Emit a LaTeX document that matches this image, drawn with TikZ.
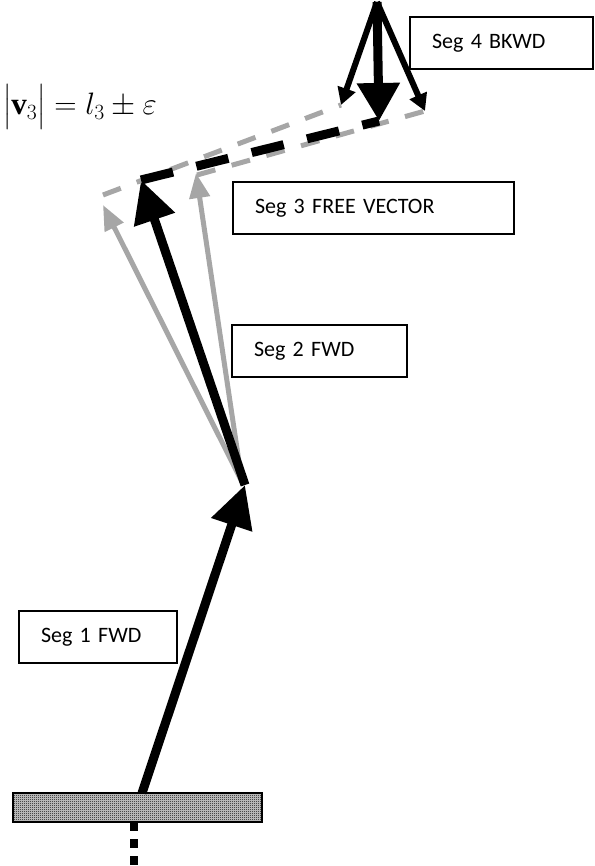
\RequirePackage{fix-cm}
\documentclass[tikz,border=0pt]{standalone}
\usepackage{amsmath}
\usepackage{fontspec}
\setmainfont{Carlito}
\newfontfamily\serifmath{Liberation Serif}
\usetikzlibrary{arrows.meta,patterns}

\pgfdeclarepatternformonly{checks}{\pgfpointorigin}{\pgfpoint{2pt}{2pt}}{\pgfpoint{2pt}{2pt}}{
  \pgfpathrectangle{\pgfpointorigin}{\pgfpoint{1pt}{1pt}}
  \pgfpathrectangle{\pgfpoint{1pt}{1pt}}{\pgfpoint{1pt}{1pt}}
  \pgfusepath{fill}}

\begin{document}
\begin{tikzpicture}[x=1pt,y=-1pt,
  segbox/.style={draw,line width=2,anchor=north west,minimum height=52,
    inner xsep=22,inner ysep=0,align=left,font=\fontsize{22}{26}\selectfont},
  fwd/.style={line width=9,-{Triangle[length=42,width=41]}},
  alt/.style={color=gray!70,line width=5,-{Triangle[length=25,width=20]}},
  bkwd/.style={line width=6,-{Triangle[length=17,width=18]}},
  bkwdmain/.style={line width=9,-{Triangle[length=38,width=41]}},
  freeline/.style={line width=9,dash pattern=on 33 off 24},
  freealt/.style={color=gray!70,line width=5,dash pattern=on 19 off 17}]
  \useasboundingbox (0,0) rectangle (594,866);

  \node (base) at (137.5,807.5) [draw,line width=1.5,preaction={fill=gray!35},pattern=checks,
    minimum width=249,minimum height=29,inner sep=0] {};
  \coordinate (stem) at (134,822);
  \coordinate (stemend) at (134,866);

  \coordinate (root) at (142,793);
  \coordinate (knee) at (245,485);
  \coordinate (kneealt) at (242,482);
  \coordinate (tip) at (141,180);
  \coordinate (tipleft) at (103,205);
  \coordinate (tipright) at (196,173);
  \coordinate (startleft) at (103,195);
  \coordinate (startright) at (197,175);
  \coordinate (top) at (377,2);
  \coordinate (end) at (379,121);
  \coordinate (endleft) at (341,105);
  \coordinate (endright) at (425,111);

  \node (seg1) at (18,610)  [segbox,text width=114] {Seg 1 FWD};
  \node (seg2) at (231,324) [segbox,text width=131] {Seg 2 FWD};
  \node (seg3) at (232,181) [segbox,text width=237] {Seg 3 FREE VECTOR};
  \node (seg4) at (409,16)  [segbox,text width=139] {Seg 4 BKWD};
  \node (len) at (3,107) [anchor=west,inner sep=0,font=\fontsize{31}{36}\selectfont]
    {$\bigl|\text{\serifmath\bfseries v}_3\bigr| = l_3 \pm \varepsilon$};

  \draw[line width=8,dash pattern=on 9 off 8] (stem) -- (stemend);
  \draw[fwd] (root) -- (knee);
  \draw[alt] (kneealt) -- (tipleft);
  \draw[alt] (kneealt) -- (tipright);
  \draw[fwd] (knee) -- (tip);
  \draw[freealt] (startleft) -- (endleft);
  \draw[freealt] (startright) -- (endright);
  \draw[freeline] (tip) -- (end);
  \draw[bkwd] (top) -- (endleft);
  \draw[bkwd] (top) -- (endright);
  \draw[bkwdmain] (top) -- (end);
\end{tikzpicture}
\end{document}
